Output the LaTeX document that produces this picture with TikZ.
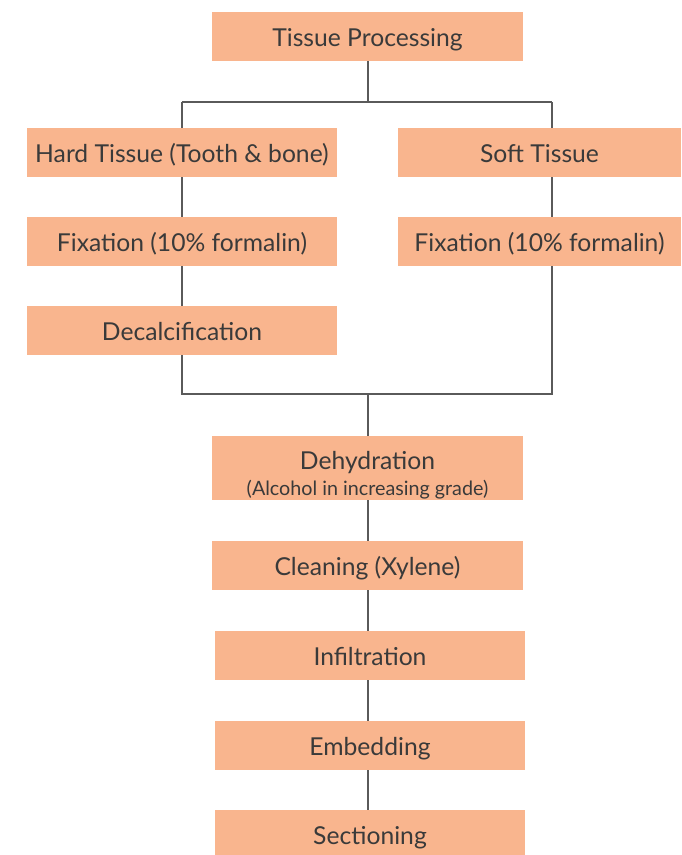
\documentclass[tikz,border=0pt]{standalone}
\usepackage{fontspec}
\setmainfont{Lato}
\definecolor{boxfill}{HTML}{F9B58E}
\definecolor{txt}{HTML}{3A3A3A}
\definecolor{ln}{HTML}{5A5A5A}
\begin{document}
\begin{tikzpicture}[x=0.75pt,y=-0.75pt,
  box/.style={fill=boxfill,draw=none,inner sep=0pt,text=txt,font=\fontsize{18.5}{21}\selectfont,align=center},
  onel/.style={text height=17pt,text depth=1.8pt},
  conn/.style={draw=ln,line width=0.8pt}]
\useasboundingbox (0,0) rectangle (681,855);
\clip (0,0) rectangle (681,855);
% coordinates for connector corners
\coordinate (ltop) at (182,102);
\coordinate (rtop) at (552,102);
\coordinate (lbot) at (182,394);
\coordinate (rbot) at (552,394);
\coordinate (join) at (368,394);
\coordinate (ctop) at (368,102);
\coordinate (cbot) at (368,850);
% connectors (drawn first, behind boxes)
\draw[conn] (368,61) -- (ctop);
\draw[conn] (ltop) -- (rtop);
\draw[conn] (ltop) -- (lbot) -- (rbot) -- (rtop);
\draw[conn] (join) -- (cbot);
% boxes
\node[box,onel,minimum width=233.25pt,minimum height=36.75pt] (tp) at (367.5,36.5) {Tissue Processing};
\node[box,onel,minimum width=232.5pt,minimum height=36.75pt] (hard) at (182,152.5) {Hard Tissue (Tooth \& bone)};
\node[box,onel,minimum width=212.25pt,minimum height=36.75pt] (soft) at (539.5,152.5) {Soft Tissue};
\node[box,onel,minimum width=232.5pt,minimum height=36.75pt] (fixL) at (182,241.5) {Fixation (10\% formalin)};
\node[box,onel,minimum width=212.25pt,minimum height=36.75pt] (fixR) at (539.5,241.5) {Fixation (10\% formalin)};
\node[box,onel,minimum width=232.5pt,minimum height=36.75pt] (decal) at (182,330.5) {Decalcification};
\node[box,minimum width=233.25pt,minimum height=48pt] (dehy) at (367.5,468) {\raisebox{0pt}[24.5pt][0pt]{Dehydration}\\[-2pt]{\fontsize{14.8}{16}\selectfont (Alcohol in increasing grade)}};
\node[box,onel,minimum width=233.25pt,minimum height=36.75pt] (clean) at (367.5,565.5) {Cleaning (Xylene)};
\node[box,onel,minimum width=232.5pt,minimum height=36.75pt] (infil) at (370,655.5) {Infiltration};
\node[box,onel,minimum width=232.5pt,minimum height=36.75pt] (embed) at (370,745.5) {Embedding};
\node[box,onel,minimum width=232.5pt,minimum height=36.75pt] (sect) at (370,834.5) {Sectioning};
\end{tikzpicture}
\end{document}
